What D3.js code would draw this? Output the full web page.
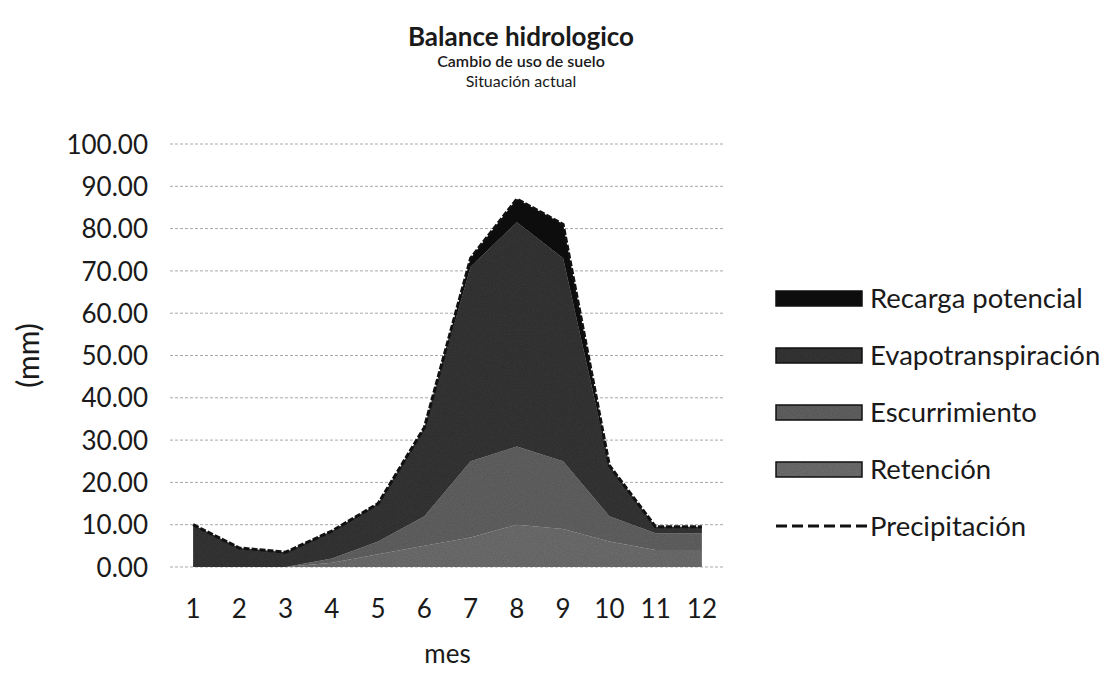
<!DOCTYPE html>
<html>
<head>
<meta charset="utf-8">
<script src="https://cdn.jsdelivr.net/npm/d3@7"></script>
<style>
  body { margin: 0; background: #fff; }
  text { font-family: Lato, "Open Sans", sans-serif; fill: #1a1a1a; }
</style>
</head>
<body>
<div id="chart"></div>
<script>
// months and series (mm)
var meses = [1, 2, 3, 4, 5, 6, 7, 8, 9, 10, 11, 12]
var retencion = [0, 0, 0, 1, 3, 5, 7, 10, 9, 6, 4, 4]
var escurrimiento = [0, 0, 0, 1, 3, 7, 18, 18.5, 16, 6, 4, 4]
var evapotranspiracion = [10, 4.5, 3.5, 6.5, 9, 21, 46, 53, 48, 12, 1.5, 1.5]
var recarga = [0, 0, 0, 0, 0, 0, 2, 5.5, 8, 0, 0, 0]
var precipitacion = [10, 4.5, 3.5, 8.5, 15, 33, 73, 87, 81, 24, 9.5, 9.5]
var yTicks = [0, 10, 20, 30, 40, 50, 60, 70, 80, 90, 100]

var keys = ['retencion', 'escurrimiento', 'evapotranspiracion', 'recarga']
var names = {
    recarga: 'Recarga potencial',
    evapotranspiracion: 'Evapotranspiración',
    escurrimiento: 'Escurrimiento',
    retencion: 'Retención'
}
var color = d3.scaleOrdinal()
    .domain(keys)
    .range(['#717171', '#656565', '#373737', '#141414'])

var data = meses.map(function (m, i) {
    return {
        mes: m,
        retencion: retencion[i],
        escurrimiento: escurrimiento[i],
        evapotranspiracion: evapotranspiracion[i],
        recarga: recarga[i],
        precipitacion: precipitacion[i]
    }
})

var W = 1119, H = 673
var plot = { left: 170, right: 725, top: 144, bottom: 567 }

var svg = d3.select('#chart').append('svg')
    .attr('width', W)
    .attr('height', H)

// grainy look of the scan
var defs = svg.append('defs')
var f = defs.append('filter').attr('id', 'grain')
f.append('feTurbulence').attr('type', 'fractalNoise').attr('baseFrequency', 0.9)
    .attr('numOctaves', 2).attr('seed', 3).attr('result', 'n')
f.append('feColorMatrix').attr('in', 'n').attr('type', 'matrix')
    .attr('values', '0 0 0 0 0  0 0 0 0 0  0 0 0 0 0  0 0 0 0.35 0').attr('result', 'na')
f.append('feComposite').attr('in', 'na').attr('in2', 'SourceGraphic').attr('operator', 'in').attr('result', 'nc')
f.append('feMerge').selectAll('feMergeNode').data(['SourceGraphic', 'nc']).enter()
    .append('feMergeNode').attr('in', function (d) { return d })

var x = d3.scaleBand()
    .domain(meses)
    .range([plot.left, plot.right])
    .padding(0)
var cx = function (m) { return x(m) + x.bandwidth() / 2 }

var y = d3.scaleLinear()
    .domain([0, 100])
    .range([plot.bottom, plot.top])

// gridlines
svg.append('g')
    .selectAll('line')
    .data(yTicks)
    .enter().append('line')
    .attr('x1', plot.left)
    .attr('x2', plot.right)
    .attr('y1', function (d) { return y(d) })
    .attr('y2', function (d) { return y(d) })
    .attr('stroke', '#a8a8a8')
    .attr('stroke-dasharray', '3,2')

// y axis labels
var yAxis = svg.append('g')
    .attr('transform', 'translate(' + (plot.left - 22) + ',0)')
    .call(d3.axisLeft(y).tickValues(yTicks).tickFormat(d3.format('.2f')).tickSize(0))
yAxis.select('.domain').remove()
yAxis.selectAll('text').style('font-size', '26px').attr('fill', '#1a1a1a').attr('dy', '0.35em').attr('x', 0)

// x axis labels
var xAxis = svg.append('g')
    .attr('transform', 'translate(0,' + (plot.bottom + 28) + ')')
    .call(d3.axisBottom(x).tickSize(0))
xAxis.select('.domain').remove()
xAxis.selectAll('text').style('font-size', '26px').attr('fill', '#1a1a1a').attr('dy', '0.75em')

// stacked areas
var stacked = d3.stack().keys(keys)(data)
var area = d3.area()
    .x(function (d) { return cx(d.data.mes) })
    .y0(function (d) { return y(d[0]) })
    .y1(function (d) { return y(d[1]) })

svg.append('g')
    .attr('filter', 'url(#grain)')
    .selectAll('path')
    .data(stacked)
    .enter().append('path')
    .attr('d', area)
    .attr('fill', function (d) { return color(d.key) })

// precipitation line (sits on the top edge of the stack)
var line = d3.line()
    .x(function (d) { return cx(d.mes) })
    .y(function (d) { return y(d.precipitacion) })
svg.append('path')
    .datum(data)
    .attr('d', line)
    .attr('fill', 'none')
    .attr('stroke', '#111')
    .attr('stroke-width', 3)
    .attr('stroke-dasharray', '6,2')

// titles
svg.append('text').attr('x', 521).attr('y', 46).attr('text-anchor', 'middle')
    .style('font-size', '26px').style('font-weight', 'bold').text('Balance hidrologico')
svg.append('text').attr('x', 521).attr('y', 67).attr('text-anchor', 'middle')
    .style('font-size', '16px').style('font-weight', '600').text('Cambio de uso de suelo')
svg.append('text').attr('x', 521).attr('y', 87).attr('text-anchor', 'middle')
    .style('font-size', '16px').text('Situación actual')

svg.append('text')
    .attr('transform', 'translate(39,' + ((plot.top + plot.bottom) / 2) + ') rotate(-90)')
    .attr('text-anchor', 'middle')
    .style('font-size', '30px').text('(mm)')
svg.append('text').attr('x', (plot.left + plot.right) / 2).attr('y', 663)
    .attr('text-anchor', 'middle').style('font-size', '26px').text('mes')

// legend
var legendKeys = ['recarga', 'evapotranspiracion', 'escurrimiento', 'retencion', 'precipitacion']
var lg = svg.append('g').selectAll('g')
    .data(legendKeys)
    .enter().append('g')
    .attr('transform', function (d, i) { return 'translate(776,' + (298 + i * 57) + ')' })
lg.filter(function (d) { return d != 'precipitacion' })
    .append('rect')
    .attr('x', 0).attr('y', -7).attr('width', 86).attr('height', 15)
    .attr('fill', function (d) { return color(d) })
    .attr('filter', 'url(#grain)')
lg.filter(function (d) { return d != 'precipitacion' })
    .append('rect')
    .attr('x', 0).attr('y', -7).attr('width', 86).attr('height', 15)
    .attr('fill', 'none').attr('stroke', '#111').attr('stroke-width', 1.5)
lg.filter(function (d) { return d == 'precipitacion' })
    .append('line')
    .attr('x1', 0).attr('x2', 93).attr('y1', 0).attr('y2', 0)
    .attr('stroke', '#111').attr('stroke-width', 3).attr('stroke-dasharray', '11,5')
lg.append('text')
    .attr('x', 94).attr('dy', '0.35em')
    .style('font-size', '27.5px')
    .text(function (d) { return d == 'precipitacion' ? 'Precipitación' : names[d] })
</script>
</body>
</html>
